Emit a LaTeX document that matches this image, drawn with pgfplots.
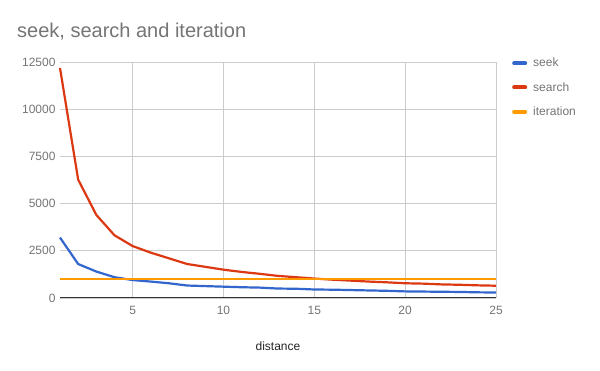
\documentclass[border=0pt]{standalone}
\usepackage{pgfplots}
\pgfplotsset{compat=1.18}
\usepackage{fontspec}
\setmainfont{Liberation Sans}
\definecolor{seekc}{HTML}{3366CC}
\definecolor{searchc}{HTML}{DC3912}
\definecolor{iterc}{HTML}{FF9900}
\definecolor{txt}{HTML}{757575}
\definecolor{gridc}{HTML}{CCCCCC}
\definecolor{axc}{HTML}{333333}
\begin{document}
\begin{tikzpicture}[x=1pt,y=1pt]
\path[use as bounding box, fill=white] (0,0) rectangle (600,371);
\node[anchor=base west, text=txt, font=\fontsize{20}{24}\selectfont, inner sep=0] at (17,333) {seek, search and iteration};
\begin{axis}[
  at={(60pt,73pt)}, anchor=south west,
  scale only axis, width=436pt, height=236pt,
  xmin=1, xmax=25, ymin=0, ymax=12500,
  xtick={5,10,15,20,25}, ytick={0,2500,5000,7500,10000,12500},
  scaled ticks=false,
  /pgf/number format/assume math mode=true,
  /pgf/number format/1000 sep={},
  tick label style={text=txt, font=\fontsize{12}{14}\selectfont},
  xticklabel style={yshift=-5pt},
  yticklabel style={xshift=-1pt},
  xlabel={distance}, xlabel style={text=black!85, font=\fontsize{12}{14}\selectfont, yshift=-20pt},
  major tick length=0pt,
  grid=major, grid style={gridc, line width=0.8pt},
  axis line style={draw=none},
  legend style={at={(1,1)}, anchor=north west, xshift=13pt, yshift=8pt, draw=none, fill=none,
    font=\fontsize{12}{14}\selectfont, text=txt, row sep=10pt,
    /tikz/every odd column/.append style={column sep=4pt}},
  legend image code/.code={\draw[#1, line width=4pt, line cap=round] (0pt,0pt) -- (11pt,0pt);},
  legend cell align=left,
  clip=false,
]
\draw[axc, line width=1pt] (axis cs:1,0) -- (axis cs:25,0);
\addplot[seekc, line width=2.2pt, line join=round] coordinates {
(1,3200)(2,1800)(3,1400)(4,1100)(5,950)(6,870)(7,780)(8,660)(9,630)(10,600)
(11,570)(12,550)(13,500)(14,490)(15,450)(16,440)(17,420)(18,400)(19,380)(20,350)
(21,340)(22,330)(23,320)(24,300)(25,290)};
\addlegendentry{seek}
\addplot[searchc, line width=2.2pt, line join=round] coordinates {
(1,12180)(2,6270)(3,4400)(4,3320)(5,2750)(6,2400)(7,2100)(8,1800)(9,1650)(10,1500)
(11,1380)(12,1280)(13,1170)(14,1100)(15,1030)(16,970)(17,920)(18,870)(19,830)(20,780)
(21,760)(22,720)(23,700)(24,670)(25,650)};
\addlegendentry{search}
\addplot[iterc, line width=2.2pt] coordinates {
(1,1000)(2,1000)(3,1000)(4,1000)(5,1000)(6,1000)(7,1000)(8,1000)(9,1000)(10,1000)
(11,1000)(12,1000)(13,1000)(14,1000)(15,1000)(16,1000)(17,1000)(18,1000)(19,1000)(20,1000)
(21,1000)(22,1000)(23,1000)(24,1000)(25,1000)};
\addlegendentry{iteration}
\end{axis}
\end{tikzpicture}
\end{document}
